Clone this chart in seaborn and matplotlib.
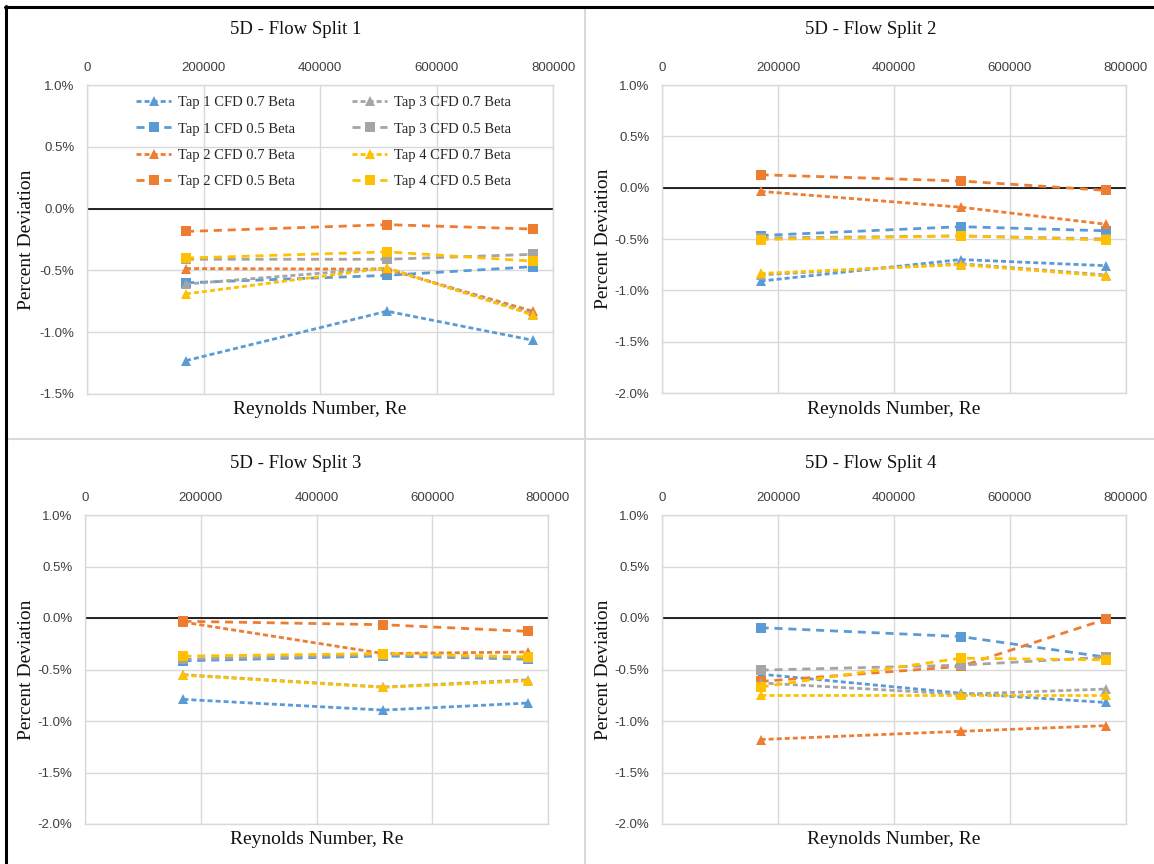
import matplotlib
matplotlib.use("Agg")
import matplotlib.pyplot as plt
import seaborn as sns
import pandas as pd
from matplotlib.lines import Line2D
from matplotlib.ticker import FuncFormatter, MultipleLocator

# ---------------- data ----------------
reynolds = [170000, 515000, 765000]
series_names = ["Tap 1 CFD 0.7 Beta", "Tap 1 CFD 0.5 Beta",
                "Tap 2 CFD 0.7 Beta", "Tap 2 CFD 0.5 Beta",
                "Tap 3 CFD 0.7 Beta", "Tap 3 CFD 0.5 Beta",
                "Tap 4 CFD 0.7 Beta", "Tap 4 CFD 0.5 Beta"]
panel_titles = ["5D - Flow Split 1", "5D - Flow Split 2",
                "5D - Flow Split 3", "5D - Flow Split 4"]
x_ticks = [0, 200000, 400000, 600000, 800000]

split1 = {
    "Tap 1 CFD 0.7 Beta": [-1.23, -0.83, -1.065],
    "Tap 1 CFD 0.5 Beta": [-0.60, -0.54, -0.47],
    "Tap 2 CFD 0.7 Beta": [-0.485, -0.49, -0.83],
    "Tap 2 CFD 0.5 Beta": [-0.185, -0.13, -0.165],
    "Tap 3 CFD 0.7 Beta": [-0.61, -0.48, -0.85],
    "Tap 3 CFD 0.5 Beta": [-0.41, -0.41, -0.37],
    "Tap 4 CFD 0.7 Beta": [-0.69, -0.48, -0.86],
    "Tap 4 CFD 0.5 Beta": [-0.40, -0.35, -0.425],
}
split2 = {
    "Tap 1 CFD 0.7 Beta": [-0.91, -0.70, -0.76],
    "Tap 1 CFD 0.5 Beta": [-0.466, -0.38, -0.42],
    "Tap 2 CFD 0.7 Beta": [-0.036, -0.19, -0.356],
    "Tap 2 CFD 0.5 Beta": [0.126, 0.065, -0.026],
    "Tap 3 CFD 0.7 Beta": [-0.85, -0.74, -0.85],
    "Tap 3 CFD 0.5 Beta": [-0.49, -0.47, -0.50],
    "Tap 4 CFD 0.7 Beta": [-0.835, -0.75, -0.86],
    "Tap 4 CFD 0.5 Beta": [-0.505, -0.47, -0.51],
}
split3 = {
    "Tap 1 CFD 0.7 Beta": [-0.79, -0.894, -0.826],
    "Tap 1 CFD 0.5 Beta": [-0.416, -0.368, -0.40],
    "Tap 2 CFD 0.7 Beta": [-0.04, -0.345, -0.33],
    "Tap 2 CFD 0.5 Beta": [-0.032, -0.065, -0.13],
    "Tap 3 CFD 0.7 Beta": [-0.55, -0.67, -0.60],
    "Tap 3 CFD 0.5 Beta": [-0.40, -0.355, -0.39],
    "Tap 4 CFD 0.7 Beta": [-0.555, -0.674, -0.61],
    "Tap 4 CFD 0.5 Beta": [-0.37, -0.345, -0.377],
}
split4 = {
    "Tap 1 CFD 0.7 Beta": [-0.545, -0.73, -0.82],
    "Tap 1 CFD 0.5 Beta": [-0.094, -0.18, -0.38],
    "Tap 2 CFD 0.7 Beta": [-1.18, -1.10, -1.045],
    "Tap 2 CFD 0.5 Beta": [-0.616, -0.47, -0.013],
    "Tap 3 CFD 0.7 Beta": [-0.63, -0.74, -0.69],
    "Tap 3 CFD 0.5 Beta": [-0.506, -0.458, -0.38],
    "Tap 4 CFD 0.7 Beta": [-0.75, -0.75, -0.75],
    "Tap 4 CFD 0.5 Beta": [-0.67, -0.39, -0.406],
}
splits = [split1, split2, split3, split4]
y_limits = [(-1.5, 1.0), (-2.0, 1.0), (-2.0, 1.0), (-2.0, 1.0)]

# ---------------- style ----------------
sns.set_style("white")
SERIF = ["Liberation Serif", "DejaVu Serif"]
SANS = ["Liberation Sans", "DejaVu Sans"]
plt.rcParams["font.family"] = SANS

tap_colors = {"Tap 1": "#5B9BD5", "Tap 2": "#ED7D31", "Tap 3": "#A5A5A5", "Tap 4": "#FFC000"}
palette = {n: tap_colors[n[:5]] for n in series_names}
markers = {n: ("^" if "0.7" in n else "s") for n in series_names}
dashes = {n: ((1.8, 1.1) if "0.7" in n else (2.9, 2.1)) for n in series_names}

W, H = 1154, 864
fig = plt.figure(figsize=(W / 100, H / 100), dpi=100)

def fx(px):
    return px / W

def fy(py):
    return 1 - py / H

# plot-area rectangles in pixels: left, top, right, bottom
rects = [(87, 85, 553, 394), (662, 85, 1126, 393),
         (85, 515, 548, 824), (662, 515, 1126, 824)]
title_pos = [(296, 30), (871, 30), (296, 463), (871, 463)]
ylab_pos = [(27, 240), (603, 239), (27, 670), (603, 670)]
xlab_pos = [(320, 410), (894, 410), (317, 840), (894, 840)]

GRID = "#d9d9d9"
pct = FuncFormatter(lambda v, p: f"{v:.1f}%")

for i, (data, (l, t, r, b)) in enumerate(zip(splits, rects)):
    ax = fig.add_axes([fx(l), fy(b), fx(r - l), (b - t) / H])
    df = pd.DataFrame([
        {"Re": x, "Deviation": v, "Series": name}
        for name in series_names for x, v in zip(reynolds, data[name])
    ])
    sns.lineplot(data=df, x="Re", y="Deviation", hue="Series", style="Series",
                 hue_order=series_names, style_order=series_names,
                 palette=palette, markers=markers, dashes=dashes,
                 linewidth=2.0, markersize=6.5, markeredgewidth=0,
                 errorbar=None, sort=False, legend=(i == 0), ax=ax)
    ax.set_xlim(0, 800000)
    ax.set_ylim(*y_limits[i])
    ax.set_xticks(x_ticks)
    ax.xaxis.set_major_formatter(FuncFormatter(lambda v, p: f"{int(v)}"))
    ax.yaxis.set_major_locator(MultipleLocator(0.5))
    ax.yaxis.set_major_formatter(pct)
    ax.xaxis.tick_top()
    ax.tick_params(length=0, labelsize=9.5, labelcolor="#404040")
    ax.tick_params(axis="x", pad=8)
    ax.tick_params(axis="y", pad=9)
    for lab in ax.get_xticklabels() + ax.get_yticklabels():
        lab.set_family(SANS)
    ax.grid(True, color=GRID, linewidth=1)
    ax.set_axisbelow(True)
    for sp in ax.spines.values():
        sp.set_color(GRID)
        sp.set_linewidth(1)
    ax.axhline(0, color="black", linewidth=1.2, zorder=1.5)
    ax.set_xlabel("")
    ax.set_ylabel("")

    fig.text(fx(title_pos[i][0]), fy(title_pos[i][1]), panel_titles[i],
             ha="center", va="center", fontsize=13.5, family=SERIF, color="#111111")
    fig.text(fx(ylab_pos[i][0]), fy(ylab_pos[i][1]), "Percent Deviation",
             ha="center", va="center", rotation=90, fontsize=14, family=SERIF, color="#111111")
    fig.text(fx(xlab_pos[i][0]), fy(xlab_pos[i][1]), "Reynolds Number, Re",
             ha="center", va="center", fontsize=14, family=SERIF, color="#111111")

    if i == 0:
        handles, labels = ax.get_legend_handles_labels()
        ax.get_legend().remove()
        ax.legend(handles, labels, ncol=2, frameon=False, loc="upper left",
                  bbox_to_anchor=((136 - l) / (r - l), 1 - (96 - t) / (b - t)),
                  borderaxespad=0, borderpad=0, handlelength=2.4,
                  handletextpad=0.5, columnspacing=3.9, labelspacing=0.9,
                  prop={"family": SERIF, "size": 10.5})

# separators and outer frame
fig.add_artist(Line2D([fx(585), fx(585)], [fy(7), fy(864)], color=GRID, lw=1.5))
fig.add_artist(Line2D([fx(6), fx(1154)], [fy(439), fy(439)], color=GRID, lw=1.5))
fig.add_artist(Line2D([fx(5), fx(1154)], [fy(7), fy(7)], color="black", lw=2.2))
fig.add_artist(Line2D([fx(6), fx(6)], [fy(6), fy(864)], color="black", lw=2.2))

fig.savefig("out.png", dpi=100)
